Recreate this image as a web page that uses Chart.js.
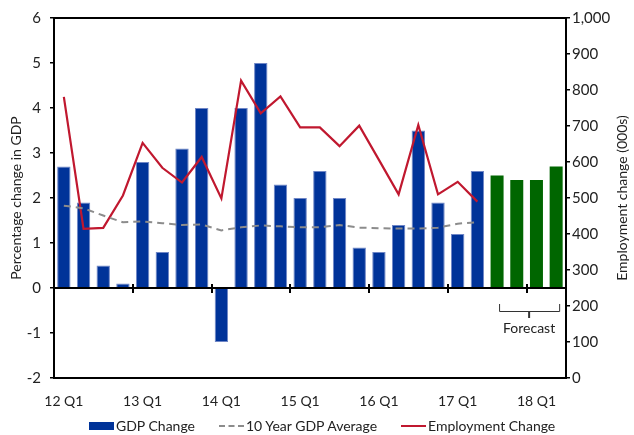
<!DOCTYPE html>
<html>
<head>
<meta charset="utf-8">
<script src="https://cdn.jsdelivr.net/npm/chart.js@4.4.1/dist/chart.umd.min.js"></script>
<style>
    html, body { margin: 0; padding: 0; background: #fff; }
    #wrap { position: relative; width: 634px; height: 435px; }
    #legend {
        position: absolute; left: 89px; top: 417px;
        display: flex; align-items: center;
        font-family: Lato, sans-serif; font-size: 14px; color: #222;
    }
    #legend .item { display: flex; align-items: center; margin-right: 24px; }
    #legend .swatch { width: 25px; margin-right: 2px; }
</style>
</head>
<body>
<div id="wrap">
    <canvas id="gdpChart" width="634" height="435"></canvas>
    <div id="legend"></div>
</div>
<script>
// Categories: quarters 2012 Q1 .. 2018 Q2
const quarterLabels = [
    '12 Q1', '12 Q2', '12 Q3', '12 Q4',
    '13 Q1', '13 Q2', '13 Q3', '13 Q4',
    '14 Q1', '14 Q2', '14 Q3', '14 Q4',
    '15 Q1', '15 Q2', '15 Q3', '15 Q4',
    '16 Q1', '16 Q2', '16 Q3', '16 Q4',
    '17 Q1', '17 Q2', '17 Q3', '17 Q4',
    '18 Q1', '18 Q2'
];

// GDP change, % (actuals)
const gdpChange = [2.7, 1.9, 0.5, 0.1, 2.8, 0.8, 3.1, 4.0, -1.2, 4.0, 5.0, 2.3,
    2.0, 2.6, 2.0, 0.9, 0.8, 1.4, 3.5, 1.9, 1.2, 2.6, null, null, null, null];

// GDP forecast, %
const gdpForecast = [null, null, null, null, null, null, null, null, null, null, null, null,
    null, null, null, null, null, null, null, null, null, null, 2.5, 2.4, 2.4, 2.7];

// 10 year GDP average, %
const tenYearGdpAverage = [1.83, 1.77, 1.61, 1.46, 1.48, 1.44, 1.40, 1.41, 1.28, 1.35, 1.39, 1.37,
    1.35, 1.35, 1.40, 1.34, 1.33, 1.32, 1.32, 1.34, 1.43, 1.46, null, null, null, null];

// Employment change, 000s
const employmentChange = [781, 414, 417, 507, 653, 584, 543, 614, 499, 826, 735, 782,
    696, 696, 644, 701, 606, 510, 703, 510, 545, 490, null, null, null, null];

const gdpAxisRange = [-2, 6];
const employmentAxisRange = [0, 1000];
const seriesNames = ['GDP Change', '10 Year GDP Average', 'Employment Change'];

const BLUE = '#003399';
const GREEN = '#006600';
const GREY = '#8c8c8c';
const RED = '#C0182F';
const TEXT = '#222';

Chart.defaults.font.family = 'Lato, sans-serif';
Chart.defaults.color = TEXT;

// Draws the zero axis, year ticks, top frame, forecast bracket and right title
const chartDecorations = {
    id: 'chartDecorations',
    afterDatasetsDraw(chart) {
        const { ctx, chartArea, scales: { x, y } } = chart;
        const zeroY = y.getPixelForValue(0);

        ctx.save();
        ctx.strokeStyle = '#000';
        ctx.lineWidth = 2;
        ctx.beginPath();
        ctx.moveTo(chartArea.left, zeroY);
        ctx.lineTo(chartArea.right, zeroY);
        ctx.moveTo(chartArea.left - 1, chartArea.top);
        ctx.lineTo(chartArea.right + 1, chartArea.top);
        ctx.stroke();

        // year ticks sit between Q4 and the next Q1
        ctx.beginPath();
        quarterLabels.forEach((label, i) => {
            if (i === 0 || i % 4 !== 0) return;
            const tx = Math.round((x.getPixelForValue(i - 1) + x.getPixelForValue(i)) / 2);
            ctx.moveTo(tx, zeroY - 4);
            ctx.lineTo(tx, zeroY + 5);
        });
        ctx.stroke();
        ctx.restore();
    },
    afterDraw(chart) {
        const { ctx, chartArea, scales: { x, y } } = chart;
        const zeroY = y.getPixelForValue(0);

        // forecast bracket under the green bars
        const first = gdpForecast.findIndex(v => v !== null);
        const last = gdpForecast.length - 1;
        const left = x.getPixelForValue(first) + 2;
        const right = x.getPixelForValue(last) + 3;
        const mid = (left + right) / 2;

        ctx.save();
        ctx.strokeStyle = '#333';
        ctx.lineWidth = 1;
        ctx.beginPath();
        ctx.moveTo(left + 0.5, zeroY + 16);
        ctx.lineTo(left + 0.5, zeroY + 23.5);
        ctx.lineTo(right + 0.5, zeroY + 23.5);
        ctx.lineTo(right + 0.5, zeroY + 16);
        ctx.stroke();
        ctx.lineWidth = 2;
        ctx.beginPath();
        ctx.moveTo(mid, zeroY + 23);
        ctx.lineTo(mid, zeroY + 30);
        ctx.stroke();

        ctx.fillStyle = TEXT;
        ctx.font = '14px Lato, sans-serif';
        ctx.textAlign = 'center';
        ctx.textBaseline = 'middle';
        ctx.fillText('Forecast', mid, zeroY + 40);

        // right axis title reads bottom-to-top
        ctx.translate(chart.width - 12, (chartArea.top + chartArea.bottom) / 2);
        ctx.rotate(-Math.PI / 2);
        ctx.font = '14px Lato, sans-serif';
        ctx.fillText('Employment change (000s)', 0, 0);
        ctx.restore();
    }
};

const ctx = document.getElementById('gdpChart').getContext('2d');

const gdpChart = new Chart(ctx, {
    type: 'bar',
    data: {
        labels: quarterLabels,
        datasets: [
            {
                type: 'line',
                label: seriesNames[1],
                data: tenYearGdpAverage,
                yAxisID: 'y',
                borderColor: GREY,
                borderWidth: 2,
                borderDash: [7, 5],
                pointRadius: 0,
                tension: 0,
                order: 1
            },
            {
                type: 'line',
                label: seriesNames[2],
                data: employmentChange,
                yAxisID: 'y1',
                borderColor: RED,
                borderWidth: 2.2,
                pointRadius: 0,
                tension: 0,
                order: 1
            },
            {
                label: seriesNames[0],
                data: gdpChange,
                yAxisID: 'y',
                backgroundColor: BLUE,
                borderColor: '#6f86c6',
                borderWidth: 1,
                grouped: false,
                barPercentage: 0.68,
                categoryPercentage: 1,
                order: 2
            },
            {
                label: 'Forecast',
                data: gdpForecast,
                yAxisID: 'y',
                backgroundColor: GREEN,
                borderWidth: 0,
                grouped: false,
                barPercentage: 0.66,
                categoryPercentage: 1,
                order: 2
            }
        ]
    },
    options: {
        responsive: false,
        animation: false,
        layout: { padding: { top: 13, bottom: 0, left: 0, right: 0 } },
        plugins: {
            legend: { display: false },
            tooltip: { enabled: false }
        },
        scales: {
            x: {
                grid: { display: false },
                border: { display: true, color: '#000', width: 2 },
                ticks: {
                    autoSkip: false,
                    maxRotation: 0,
                    padding: 7,
                    font: { size: 14 },
                    callback: function (value, index) {
                        return index % 4 === 0 ? quarterLabels[index] : '';
                    }
                },
                afterFit: scale => { scale.height = 57; }
            },
            y: {
                position: 'left',
                min: gdpAxisRange[0],
                max: gdpAxisRange[1],
                ticks: { stepSize: 1, padding: 9, font: { size: 15 } },
                grid: { drawOnChartArea: false, tickLength: 4, color: '#000', lineWidth: 1.5 },
                border: { display: true, color: '#000', width: 2 },
                title: {
                    display: true,
                    text: 'Percentage change in GDP',
                    font: { size: 14 },
                    padding: { top: 8, bottom: 0 }
                },
                afterFit: scale => { scale.width = 54; }
            },
            y1: {
                position: 'right',
                min: employmentAxisRange[0],
                max: employmentAxisRange[1],
                ticks: {
                    stepSize: 100,
                    padding: 2,
                    font: { size: 15 },
                    callback: v => v.toLocaleString('en-US')
                },
                grid: { drawOnChartArea: false, tickLength: 4, color: '#000', lineWidth: 1.5 },
                border: { display: true, color: '#000', width: 2 },
                afterFit: scale => { scale.width = 68; }
            }
        }
    },
    plugins: [chartDecorations]
});

// HTML legend built from the series names
function buildLegend() {
    const legend = document.getElementById('legend');
    const swatches = [
        `<span class="swatch" style="height:8px;background:${BLUE}"></span>`,
        `<span class="swatch" style="height:0;border-top:2px dashed ${GREY}"></span>`,
        `<span class="swatch" style="height:0;border-top:2px solid ${RED}"></span>`
    ];
    legend.innerHTML = seriesNames.map((name, i) =>
        `<span class="item">${swatches[i]}<span>${name}</span></span>`).join('');
}

buildLegend();
</script>
</body>
</html>
